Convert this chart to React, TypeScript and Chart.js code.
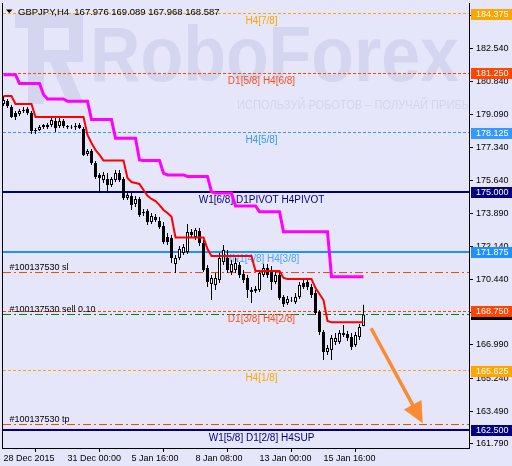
import React, { useEffect, useRef } from "react";
import { Chart, registerables } from "chart.js";

Chart.register(...registerables);

// ---------------- data ----------------
const symbolTitle = "GBPJPY,H4  167.976 169.089 167.968 168.587";

const barOpen = [
  179.64, 179.80, 179.48, 179.17, 179.11, 179.27, 179.38, 179.17, 178.27, 178.27,
  178.43, 178.53, 178.53, 178.74, 178.48, 178.74, 178.48, 178.43, 178.48, 178.53,
  178.32, 177.01, 177.17, 176.54, 175.91, 175.65, 175.70, 175.38, 175.65, 176.01,
  175.70, 174.70, 174.81, 174.39, 174.65, 173.91, 174.02, 173.44, 173.70, 173.49,
  173.23, 172.65, 172.60, 171.24, 171.55, 171.81, 171.87, 172.92, 172.65, 172.97,
  172.34, 171.03, 170.18, 170.13, 170.40, 171.34, 171.55, 170.81, 170.92, 171.18,
  170.71, 170.50, 169.87, 169.82, 169.87, 170.66, 171.03, 170.92, 170.29, 170.66,
  169.50, 169.19, 169.34, 169.24, 169.50, 170.24, 170.29, 170.03, 169.71, 168.71,
  167.66, 166.61, 166.72, 167.14, 167.14, 167.51, 167.56, 167.40, 166.98, 167.40,
  167.976,
];
const barHigh = [
  180.06, 179.90, 179.59, 179.27, 179.38, 179.48, 179.48, 179.27, 178.38, 178.53,
  178.59, 178.64, 178.90, 178.90, 179.01, 178.85, 178.53, 178.53, 178.64, 178.64,
  178.43, 177.27, 177.27, 176.64, 176.01, 176.07, 176.01, 175.80, 176.17, 176.17,
  175.80, 174.96, 174.96, 174.81, 174.75, 174.12, 174.12, 173.91, 173.86, 173.70,
  173.44, 172.86, 172.76, 171.71, 172.18, 172.29, 173.34, 173.07, 173.13, 173.13,
  172.50, 171.18, 170.66, 170.76, 171.81, 172.23, 171.97, 171.45, 171.55, 171.34,
  170.92, 170.66, 170.03, 170.08, 170.92, 171.24, 171.24, 171.13, 170.81, 170.81,
  169.61, 169.55, 169.50, 169.71, 170.29, 170.40, 170.50, 170.18, 169.87, 168.82,
  167.77, 166.98, 167.51, 167.61, 167.77, 168.03, 167.72, 167.61, 167.66, 168.08,
  169.089,
];
const barLow = [
  179.53, 179.43, 178.90, 178.80, 179.01, 179.17, 179.06, 178.06, 178.06, 178.22,
  178.32, 178.32, 178.43, 178.17, 178.38, 178.38, 178.32, 178.32, 178.27, 178.32,
  176.91, 176.91, 176.43, 175.70, 174.96, 175.49, 174.96, 175.28, 175.54, 175.54,
  174.60, 174.60, 174.07, 174.23, 173.70, 173.76, 173.28, 173.34, 173.44, 173.07,
  172.29, 172.23, 171.29, 170.76, 171.45, 171.71, 171.76, 172.60, 172.50, 172.18,
  170.81, 170.03, 169.34, 169.87, 170.24, 171.18, 170.76, 170.66, 170.76, 170.50,
  170.24, 169.45, 169.19, 169.71, 169.76, 170.55, 170.50, 169.87, 170.18, 169.34,
  168.98, 169.08, 169.24, 169.13, 169.40, 169.92, 169.87, 169.45, 168.56, 167.51,
  166.19, 166.46, 166.19, 166.98, 167.03, 167.40, 167.19, 166.72, 166.88, 167.24,
  167.968,
];
const barClose = [
  179.85, 179.53, 178.95, 178.95, 179.27, 179.32, 179.17, 178.22, 178.22, 178.43,
  178.53, 178.43, 178.80, 178.38, 178.74, 178.48, 178.43, 178.40, 178.43, 178.38,
  176.96, 177.17, 176.54, 175.80, 175.75, 175.91, 175.38, 175.70, 176.01, 175.65,
  174.70, 174.86, 174.33, 174.65, 173.81, 173.97, 173.44, 173.76, 173.55, 173.18,
  172.39, 172.39, 171.55, 171.55, 172.02, 172.13, 172.92, 172.76, 173.02, 172.34,
  170.92, 170.29, 170.50, 170.50, 171.55, 171.97, 170.92, 171.24, 171.29, 170.66,
  170.40, 169.87, 169.76, 169.92, 170.76, 171.03, 170.66, 170.29, 170.66, 169.45,
  169.13, 169.40, 169.32, 169.50, 170.13, 170.03, 170.03, 169.61, 168.66, 167.66,
  166.61, 166.82, 167.35, 167.35, 167.61, 167.61, 167.35, 166.88, 167.51, 167.92,
  168.587,
];
const redLine = [
  180.06, 180.06, 180.06, 179.64, 179.64, 179.64, 179.64, 179.64, 178.95, 178.95,
  178.95, 178.95, 178.95, 178.95, 178.95, 178.95, 178.95, 178.95, 178.95, 178.95,
  178.95, 178.01, 177.59, 177.22, 176.96, 176.67, 176.67, 176.67, 176.67, 176.67,
  176.67, 175.75, 175.54, 175.49, 175.44, 175.12, 174.81, 174.65, 174.54, 174.33,
  174.07, 173.91, 173.72, 172.63, 172.63, 172.63, 172.63, 172.63, 172.63, 172.63,
  172.63, 172.02, 171.65, 171.65, 171.65, 171.65, 171.65, 171.65, 171.65, 171.65,
  171.65, 171.65, 171.65, 170.87, 170.87, 170.87, 170.87, 170.87, 170.87, 170.87,
  170.50, 170.45, 170.45, 170.45, 170.45, 170.45, 170.45, 170.45, 169.97, 169.66,
  169.34, 168.24, 168.17, 168.17, 168.17, 168.17, 168.17, 168.17, 168.17, 168.17,
  168.17,
];
const magentaLine = [
  181.18, 181.18, 181.18, 181.18, 180.72, 180.72, 180.72, 180.72, 180.72, 180.72,
  180.14, 179.90, 179.90, 179.90, 179.90, 179.90, 179.78, 179.78, 179.78, 179.78,
  179.78, 179.78, 178.82, 178.82, 178.82, 178.82, 178.82, 178.82, 177.84, 177.84,
  177.84, 177.84, 177.84, 177.84, 176.70, 176.67, 176.67, 176.67, 176.67, 176.67,
  176.00, 175.91, 175.91, 175.91, 175.91, 175.91, 175.83, 175.83, 175.83, 175.83,
  175.83, 175.83, 175.02, 174.96, 174.96, 174.96, 174.96, 174.96, 174.28, 174.28,
  174.28, 174.28, 174.28, 174.28, 173.98, 173.98, 173.98, 173.98, 173.98, 173.98,
  172.93, 172.93, 172.93, 172.93, 172.93, 172.93, 172.93, 172.93, 172.93, 172.93,
  172.93, 172.93, 170.57, 170.57, 170.57, 170.57, 170.57, 170.57, 170.57, 170.57,
  170.57,
];

const xTickIndex = [0, 16, 32, 48, 64, 80];
const xTickLabels = ["28 Dec 2015", "31 Dec 00:00", "5 Jan 16:00", "8 Jan 08:00", "13 Jan 00:00", "15 Jan 16:00"];
const yTickValues = [184.29, 182.54, 180.84, 179.09, 177.34, 175.64, 173.89, 172.14, 170.44, 168.69, 166.99, 165.24, 163.49, 161.79];

const levelPrices = [184.375, 181.25, 178.125, 175.0, 171.875, 168.75, 165.625, 162.5];
const levelLabels = [
  "H4[7/8]", "D1[5/8] H4[6/8]", "H4[5/8]", "W1[6/8] D1PIVOT H4PIVOT",
  "MN1[4/8] H4[3/8]", "D1[3/8] H4[2/8]", "H4[1/8]", "W1[5/8] D1[2/8] H4SUP",
];
const orderPrices = [170.8, 168.59, 162.83];
const orderLabels = ["#100137530 sl", "#100137530 sell 0.10", "#100137530 tp"];
const currentPrice = 168.587;
const arrowFrom = [91.9, 167.86];
const arrowTo = [104.8, 162.87];

// ---------------- styles ----------------
const FONT = '"Liberation Sans", Arial, sans-serif';
const BG = "#e6e6fa";
const WM = "#d3d6ee";
const ARROW = "#fb8a34";
const Y_MIN = 161.57;
const Y_MAX = 184.942;
const X_MIN = -0.125;
const X_MAX = 116.375;
const LABEL_BAR = 64.5;
const ORDER_LABEL_BAR = 1.5;

const levelStyles = [
  { color: "#ffa500", dash: [3, 2], width: 1, text: "#ffa500", box: "#ffa500" },
  { color: "#ff4500", dash: [3, 2], width: 1, text: "#ff4f1a", box: "#ff4500" },
  { color: "#3399ff", dash: [3, 2], width: 1, text: "#3399ff", box: "#3399ff" },
  { color: "#000080", dash: [], width: 2, text: "#000080", box: "#000080" },
  { color: "#1e90ff", dash: [], width: 2, text: "#4aa3ff", box: "#1e90ff" },
  { color: "#ff4500", dash: [3, 2], width: 1, text: "#ff4f1a", box: "#ff4500" },
  { color: "#ffa500", dash: [3, 2], width: 1, text: "#ffa500", box: "#ffa500" },
  { color: "#000080", dash: [], width: 2, text: "#000080", box: "#000080" },
];
const orderStyles = [
  { color: "#ff4500", dash: [8, 3, 2, 3] },
  { color: "#008000", dash: [8, 3, 2, 3] },
  { color: "#ff4500", dash: [8, 3, 2, 3] },
];

function drawWatermark(ctx: CanvasRenderingContext2D) {
  ctx.save();
  ctx.fillStyle = WM;
  // logo
  ctx.fillRect(15, 14, 68, 14);
  ctx.fillRect(28, 28, 16, 76);
  ctx.fillRect(69, 28, 14, 34);
  ctx.fillRect(44, 50, 25, 12);
  ctx.beginPath();
  ctx.moveTo(50, 62);
  ctx.lineTo(66, 62);
  ctx.lineTo(84, 104);
  ctx.lineTo(68, 104);
  ctx.closePath();
  ctx.fill();
  // name
  ctx.font = `bold 78px ${FONT}`;
  ctx.textAlign = "left";
  ctx.textBaseline = "alphabetic";
  const w = ctx.measureText("RoboForex").width;
  ctx.save();
  ctx.translate(90, 81);
  ctx.scale(369 / w, 1);
  ctx.fillText("RoboForex", 0, 0);
  ctx.restore();
  ctx.font = `12px ${FONT}`;
  const t = "ИСПОЛЬЗУЙ РОБОТОВ – ПОЛУЧАЙ ПРИБЫЛЬ";
  const w2 = ctx.measureText(t).width;
  ctx.save();
  ctx.translate(237, 109);
  ctx.scale(249 / w2, 1);
  ctx.fillText(t, 0, 0);
  ctx.restore();
  ctx.restore();
}

const mt4Plugin = {
  id: "mt4",
  beforeDraw(chart: any) {
    const ctx = chart.ctx;
    ctx.save();
    ctx.fillStyle = BG;
    ctx.fillRect(0, 0, chart.width, chart.height);
    ctx.restore();
  },
  beforeDatasetsDraw(chart: any) {
    const { ctx, chartArea: a, scales } = chart;
    const xs = scales.x;
    const ys = scales.y;
    ctx.save();
    ctx.beginPath();
    ctx.rect(a.left, a.top, a.right - a.left, a.bottom - a.top);
    ctx.clip();
    drawWatermark(ctx);
    levelPrices.forEach((p, k) => {
      const st = levelStyles[k];
      const py = ys.getPixelForValue(p);
      const yy = st.width === 2 ? Math.round(py) : Math.floor(py) + 0.5;
      ctx.strokeStyle = st.color;
      ctx.lineWidth = st.width;
      ctx.setLineDash(st.dash);
      ctx.beginPath();
      ctx.moveTo(a.left, yy);
      ctx.lineTo(a.right, yy);
      ctx.stroke();
    });
    orderPrices.forEach((p, k) => {
      const st = orderStyles[k];
      const py = Math.floor(ys.getPixelForValue(p)) + 0.5;
      ctx.strokeStyle = st.color;
      ctx.lineWidth = 1;
      ctx.setLineDash(st.dash);
      ctx.beginPath();
      ctx.moveTo(a.left, py);
      ctx.lineTo(a.right, py);
      ctx.stroke();
    });
    ctx.setLineDash([]);
    ctx.font = `10px ${FONT}`;
    ctx.textAlign = "center";
    ctx.textBaseline = "alphabetic";
    const lx = xs.getPixelForValue(LABEL_BAR);
    levelLabels.forEach((lab, k) => {
      const py = ys.getPixelForValue(levelPrices[k]);
      ctx.fillStyle = levelStyles[k].text;
      ctx.fillText(lab, lx, py + 10.5);
    });
    ctx.font = `9px ${FONT}`;
    ctx.textAlign = "left";
    ctx.fillStyle = "#000";
    const ox = xs.getPixelForValue(ORDER_LABEL_BAR);
    orderLabels.forEach((lab, k) => {
      const py = ys.getPixelForValue(orderPrices[k]);
      ctx.fillText(lab, ox, py - 2.5);
    });
    ctx.restore();
  },
  afterDatasetsDraw(chart: any) {
    const { ctx, chartArea: a, scales } = chart;
    const xs = scales.x;
    const ys = scales.y;
    const x0 = xs.getPixelForValue(arrowFrom[0]);
    const y0 = ys.getPixelForValue(arrowFrom[1]);
    const x1 = xs.getPixelForValue(arrowTo[0]);
    const y1 = ys.getPixelForValue(arrowTo[1]);
    const dx = x1 - x0;
    const dy = y1 - y0;
    const len = Math.hypot(dx, dy);
    const ux = dx / len;
    const uy = dy / len;
    const headLen = 21;
    const halfW = 10;
    const bx = x1 - ux * headLen;
    const by = y1 - uy * headLen;
    ctx.save();
    ctx.beginPath();
    ctx.rect(a.left, a.top, a.right - a.left, a.bottom - a.top);
    ctx.clip();
    ctx.strokeStyle = ARROW;
    ctx.fillStyle = ARROW;
    ctx.lineWidth = 3.5;
    ctx.beginPath();
    ctx.moveTo(x0, y0);
    ctx.lineTo(bx + ux * 2, by + uy * 2);
    ctx.stroke();
    ctx.beginPath();
    ctx.moveTo(x1, y1);
    ctx.lineTo(bx - uy * halfW, by + ux * halfW);
    ctx.lineTo(bx + uy * halfW, by - ux * halfW);
    ctx.closePath();
    ctx.fill();
    ctx.restore();
  },
  afterDraw(chart: any) {
    const { ctx, chartArea: a, scales } = chart;
    const ys = scales.y;
    ctx.save();
    ctx.fillStyle = "#000";
    ctx.fillRect(2, a.top, 1, a.bottom - a.top + 1);
    const boxX = a.right + 2;
    const box = (price: number, bg: string) => {
      const py = Math.round(ys.getPixelForValue(price));
      ctx.fillStyle = bg;
      ctx.fillRect(boxX, py - 5, chart.width - boxX, 11);
      ctx.fillStyle = "#fff";
      ctx.font = `9px ${FONT}`;
      ctx.textAlign = "left";
      ctx.textBaseline = "middle";
      ctx.fillText(price.toFixed(3), boxX + 5, py + 0.5);
    };
    box(currentPrice, "#000000");
    levelPrices.forEach((p, k) => box(p, levelStyles[k].box));
    // title
    ctx.fillStyle = "#000";
    ctx.beginPath();
    ctx.moveTo(6, 9.5);
    ctx.lineTo(12.5, 9.5);
    ctx.lineTo(9.25, 13);
    ctx.closePath();
    ctx.fill();
    ctx.font = `9.5px ${FONT}`;
    ctx.textAlign = "left";
    ctx.textBaseline = "alphabetic";
    ctx.fillText(symbolTitle, 18, 14.5);
    ctx.restore();
  },
};

export default function App() {
  const ref = useRef<HTMLCanvasElement>(null);
  useEffect(() => {
    const bodies = barOpen.map((o, i) => ({ x: i, y: [o, barClose[i]] }));
    const wicks = barOpen.map((_, i) => ({ x: i, y: [barLow[i], barHigh[i]] }));
    const bodyColors = barOpen.map((o, i) => (barClose[i] > o ? "#ffffff" : "#000000"));
    const tickFont = { family: FONT, size: 9 };
    const chart = new Chart(ref.current as HTMLCanvasElement, {
      type: "bar",
      data: {
        datasets: [
          {
            type: "line",
            data: magentaLine.map((v, i) => ({ x: i, y: v })),
            borderColor: "#ff00ff",
            borderWidth: 3,
            pointRadius: 0,
            tension: 0,
            order: 0,
          } as any,
          {
            type: "line",
            data: redLine.map((v, i) => ({ x: i, y: v })),
            borderColor: "#ff0000",
            borderWidth: 2,
            pointRadius: 0,
            tension: 0,
            order: 1,
          } as any,
          {
            type: "bar",
            data: bodies,
            backgroundColor: bodyColors,
            borderColor: "#000000",
            borderWidth: 1,
            borderSkipped: false,
            barThickness: 3,
            grouped: false,
            inflateAmount: 0,
            order: 2,
          } as any,
          {
            type: "bar",
            data: wicks,
            backgroundColor: "#000000",
            borderWidth: 0,
            barThickness: 1,
            grouped: false,
            inflateAmount: 0,
            order: 3,
          } as any,
        ],
      },
      options: {
        responsive: false,
        animation: false,
        devicePixelRatio: 1,
        events: [],
        layout: { padding: { left: 3, top: 3, right: 0, bottom: 0 } },
        plugins: { legend: { display: false }, tooltip: { enabled: false } },
        scales: {
          x: {
            type: "linear",
            min: X_MIN,
            max: X_MAX,
            offset: false,
            grid: { drawOnChartArea: false, drawTicks: true, tickLength: 4, color: "#000" },
            border: { display: true, color: "#000", width: 1 },
            ticks: {
              align: "start",
              maxRotation: 0,
              autoSkip: false,
              padding: 1,
              color: "#000",
              font: tickFont,
              callback: (v: any) => {
                const k = xTickIndex.indexOf(Number(v));
                return k >= 0 ? xTickLabels[k] : "";
              },
            },
            afterBuildTicks: (s: any) => {
              s.ticks = xTickIndex.map((v) => ({ value: v }));
            },
            afterFit: (s: any) => {
              s.height = 18;
              s.paddingLeft = 0;
              s.paddingRight = 0;
            },
          },
          y: {
            type: "linear",
            position: "right",
            min: Y_MIN,
            max: Y_MAX,
            grid: { drawOnChartArea: false, drawTicks: true, tickLength: 4, color: "#000" },
            border: { display: true, color: "#000", width: 1 },
            ticks: {
              autoSkip: false,
              padding: 3,
              color: "#000",
              font: tickFont,
              callback: (v: any) => Number(v).toFixed(3),
            },
            afterBuildTicks: (s: any) => {
              s.ticks = yTickValues.map((v) => ({ value: v }));
            },
            afterFit: (s: any) => {
              s.width = 43;
              s.paddingTop = 0;
              s.paddingBottom = 0;
            },
          },
        },
      } as any,
      plugins: [mt4Plugin],
    });
    return () => chart.destroy();
  }, []);
  return (
    <div style={{ position: "fixed", left: 0, top: 0, width: 512, height: 466, background: BG }}>
      <canvas ref={ref} width={512} height={466} style={{ display: "block", width: 512, height: 466 }} />
    </div>
  );
}
